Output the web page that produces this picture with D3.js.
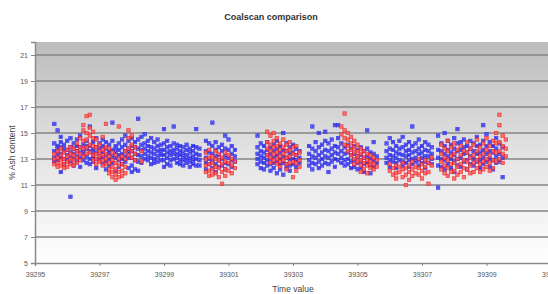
<!DOCTYPE html>
<html>
<head>
<meta charset="utf-8">
<script src="https://cdn.jsdelivr.net/npm/d3@7"></script>
<style>
    body { margin: 0; background: #fff; }
    svg { display: block; font-family: "Liberation Sans", Arial, sans-serif; }
</style>
</head>
<body>
<div id="chart"></div>
<script>
// each row: [time value, ash readings at that time...]
const seriesBlue = [
    [39295.6, 15.7, 14.2, 13.6, 13.1, 12.8],
    [39295.7, 15.2, 14.0, 13.5, 13.2, 13.8, 12.9],
    [39295.8, 14.7, 13.9, 13.4, 12.0, 13.1, 14.3],
    [39295.9, 14.1, 13.6, 13.0, 12.6, 13.8],
    [39296.0, 14.4, 13.7, 13.3, 12.9],
    [39296.1, 13.9, 13.5, 13.1, 12.7, 10.1, 14.6],
    [39296.2, 14.2, 13.8, 13.4, 13.0, 12.5],
    [39296.3, 14.5, 13.6, 13.2, 12.8, 14.0],
    [39296.4, 13.9, 13.5, 13.1, 12.4, 14.8],
    [39296.5, 14.1, 13.7, 13.3, 12.9, 13.5],
    [39296.6, 14.4, 13.8, 13.2, 12.7, 14.0],
    [39296.7, 15.5, 14.0, 13.6, 13.0, 12.6],
    [39296.8, 14.3, 13.7, 13.4, 12.8, 13.1],
    [39296.9, 14.6, 13.9, 13.5, 13.0, 12.3],
    [39297.0, 14.2, 13.6, 13.2, 12.9, 13.8],
    [39297.1, 14.0, 13.5, 13.1, 12.6, 14.5],
    [39297.2, 14.3, 13.8, 13.3, 12.8, 12.2],
    [39297.3, 14.1, 13.6, 13.0, 12.5, 13.4],
    [39297.4, 15.8, 14.4, 13.7, 13.2, 12.7],
    [39297.5, 14.0, 13.5, 13.1, 12.1, 13.8],
    [39297.6, 14.2, 13.7, 13.3, 12.9, 12.4],
    [39297.7, 14.5, 13.9, 13.4, 13.0, 12.6],
    [39297.8, 14.8, 14.1, 13.6, 13.2, 12.8],
    [39297.9, 14.4, 13.8, 13.5, 13.1, 12.3],
    [39298.0, 14.6, 14.0, 13.6, 13.1, 12.5, 12.0],
    [39298.1, 14.3, 13.9, 13.4, 12.9, 12.2],
    [39298.2, 16.1, 14.5, 13.8, 13.3, 12.8, 12.1],
    [39298.3, 14.7, 14.1, 13.7, 13.2, 12.7],
    [39298.4, 14.9, 14.2, 13.8, 13.4, 13.0],
    [39298.5, 14.4, 14.0, 13.6, 13.2, 12.9],
    [39298.6, 14.6, 13.9, 13.5, 13.1, 12.6],
    [39298.7, 14.3, 13.8, 13.4, 13.0, 12.7],
    [39298.8, 14.5, 14.0, 13.6, 13.2, 12.8],
    [39298.9, 14.1, 13.7, 13.3, 12.9, 13.5],
    [39299.0, 15.3, 14.2, 13.7, 13.3, 12.9, 12.4],
    [39299.1, 14.4, 13.9, 13.5, 13.1, 12.6],
    [39299.2, 14.0, 13.6, 13.3, 12.9, 12.5],
    [39299.3, 15.5, 14.2, 13.7, 13.4, 13.0],
    [39299.4, 14.1, 13.8, 13.4, 13.1, 12.7],
    [39299.5, 14.0, 13.6, 13.3, 12.9, 12.6],
    [39299.6, 13.9, 13.5, 13.2, 12.9, 12.5],
    [39299.7, 14.1, 13.7, 13.3, 13.0, 12.7],
    [39299.8, 13.8, 13.5, 13.1, 12.8, 12.4],
    [39299.9, 14.0, 13.6, 13.2, 12.9, 12.6],
    [39300.0, 15.3, 13.9, 13.4, 13.0, 12.5],
    [39300.1, 13.8, 13.3, 12.9, 12.5],
    [39300.3, 14.4, 13.6, 13.1, 12.7, 12.2],
    [39300.4, 14.2, 13.5, 13.0, 12.6],
    [39300.5, 15.8, 14.0, 13.4, 12.8, 12.3],
    [39300.6, 14.3, 13.7, 13.2, 12.6, 12.0],
    [39300.7, 13.9, 13.3, 12.9, 12.4],
    [39300.8, 14.1, 13.6, 13.0, 12.5],
    [39300.9, 14.8, 13.8, 13.2, 12.7, 12.2],
    [39301.0, 14.5, 13.7, 13.1, 12.6],
    [39301.1, 14.0, 13.4, 12.9, 12.4],
    [39301.2, 13.7, 13.2, 12.8],
    [39301.9, 14.8, 13.9, 13.4, 13.0, 12.6],
    [39302.0, 14.2, 13.6, 13.2, 12.8, 12.3],
    [39302.1, 14.0, 13.5, 13.1, 12.7, 12.2],
    [39302.2, 14.3, 13.7, 13.3, 12.9, 12.5],
    [39302.3, 13.9, 13.4, 13.0, 12.6, 12.1],
    [39302.4, 14.1, 13.6, 13.1, 12.7, 12.3],
    [39302.5, 14.4, 13.8, 13.3, 12.8, 11.9],
    [39302.6, 14.0, 13.5, 13.0, 12.6, 12.2],
    [39302.7, 15.0, 13.7, 13.2, 12.7, 11.8],
    [39302.8, 14.2, 13.6, 13.1, 12.6, 12.3],
    [39302.9, 13.9, 13.4, 13.0, 12.5, 12.1],
    [39303.0, 14.1, 13.5, 13.0, 12.6],
    [39303.1, 13.8, 13.3, 12.9, 12.4],
    [39303.2, 13.6, 13.1, 12.7],
    [39303.5, 14.0, 13.4, 12.9, 12.5],
    [39303.6, 15.5, 13.8, 13.2, 12.7, 12.2],
    [39303.7, 14.3, 13.6, 13.1, 12.6],
    [39303.8, 15.0, 13.9, 13.3, 12.8, 12.3],
    [39303.9, 14.1, 13.5, 13.0, 12.5],
    [39304.0, 15.1, 14.4, 13.7, 13.2, 12.7],
    [39304.1, 14.2, 13.6, 13.1, 12.6, 12.0],
    [39304.2, 14.5, 13.8, 13.3, 12.8],
    [39304.3, 15.6, 14.0, 13.5, 13.0, 12.4],
    [39304.4, 15.6, 14.6, 13.9, 13.4, 12.9],
    [39304.5, 14.2, 13.6, 13.1, 12.7],
    [39304.6, 13.9, 13.4, 12.9, 12.5],
    [39304.7, 14.1, 13.5, 13.0, 12.6],
    [39304.8, 13.8, 13.3, 12.8, 12.3],
    [39304.9, 14.0, 13.4, 12.9, 12.4],
    [39305.0, 13.7, 13.2, 12.7, 12.2],
    [39305.1, 13.9, 13.3, 12.8, 12.3],
    [39305.2, 13.6, 13.1, 12.6, 12.0],
    [39305.3, 15.2, 13.8, 13.2, 12.7],
    [39305.4, 13.5, 13.0, 12.5, 11.9],
    [39305.5, 14.3, 13.4, 12.9, 12.4],
    [39305.6, 13.2, 12.7],
    [39305.9, 14.2, 13.6, 13.1, 12.7],
    [39306.0, 14.6, 13.8, 13.3, 12.9, 12.4],
    [39306.1, 14.3, 13.7, 13.2, 12.8],
    [39306.2, 14.0, 13.5, 13.1, 12.7, 12.3],
    [39306.3, 14.4, 13.8, 13.4, 12.9],
    [39306.4, 14.7, 13.9, 13.3, 12.8, 12.5],
    [39306.5, 14.1, 13.6, 13.2, 12.7],
    [39306.6, 14.3, 13.7, 13.3, 12.9, 12.4],
    [39306.7, 15.5, 14.0, 13.5, 13.0, 12.6],
    [39306.8, 14.2, 13.6, 13.1, 12.8],
    [39306.9, 14.5, 13.8, 13.4, 12.9, 12.5],
    [39307.0, 14.0, 13.5, 13.1, 12.7],
    [39307.1, 14.3, 13.7, 13.2, 12.8, 12.3],
    [39307.2, 14.1, 13.6, 13.2, 12.7],
    [39307.3, 13.9, 13.4, 13.0, 12.6],
    [39307.5, 14.8, 13.7, 13.1, 12.5, 10.8],
    [39307.6, 14.2, 13.6, 13.0, 12.4],
    [39307.7, 15.0, 14.0, 13.4, 12.9, 12.2],
    [39307.8, 14.4, 13.7, 13.2, 12.6],
    [39307.9, 14.1, 13.5, 13.0, 12.3],
    [39308.0, 14.6, 13.8, 13.3, 12.8, 12.0],
    [39308.1, 15.3, 14.2, 13.6, 13.0, 12.5],
    [39308.2, 14.3, 13.7, 13.1, 12.4],
    [39308.3, 14.5, 13.9, 13.4, 12.8],
    [39308.4, 14.0, 13.5, 12.9, 12.2],
    [39308.5, 14.4, 13.8, 13.2, 12.6],
    [39308.6, 14.2, 13.6, 13.0, 12.5],
    [39308.7, 14.7, 14.0, 13.4, 12.8],
    [39308.8, 14.1, 13.5, 12.9, 12.3],
    [39308.9, 15.6, 14.4, 13.7, 13.1, 12.6],
    [39309.0, 14.9, 14.0, 13.4, 12.8],
    [39309.1, 14.3, 13.6, 13.0, 12.4],
    [39309.2, 14.0, 13.5, 12.9, 12.2],
    [39309.3, 14.6, 13.8, 13.2, 12.7],
    [39309.4, 14.2, 13.4, 12.8],
    [39309.5, 13.9, 13.1, 11.6]
];

const seriesRed = [
    [39295.6, 13.4, 13.0, 12.6],
    [39295.7, 13.6, 13.1, 12.7, 12.4],
    [39295.8, 13.3, 12.9, 12.5, 13.8],
    [39295.9, 13.5, 13.0, 12.6, 12.3],
    [39296.0, 13.7, 13.2, 12.8, 12.4],
    [39296.1, 13.4, 13.0, 12.6, 13.9],
    [39296.2, 13.8, 13.3, 12.9, 12.5],
    [39296.3, 14.2, 13.6, 13.1, 12.7],
    [39296.4, 14.6, 13.9, 13.4, 12.9],
    [39296.5, 15.6, 15.2, 14.4, 13.8, 13.2],
    [39296.6, 16.3, 15.0, 14.5, 13.9, 13.4],
    [39296.7, 16.4, 15.4, 14.8, 14.1, 13.5],
    [39296.8, 15.1, 14.6, 14.0, 13.3, 12.9],
    [39296.9, 14.5, 13.9, 13.4, 13.0, 12.6],
    [39297.0, 14.1, 13.6, 13.2, 12.8],
    [39297.1, 14.7, 13.7, 13.3, 12.9, 12.5],
    [39297.2, 15.7, 13.9, 13.4, 13.0, 12.6],
    [39297.3, 13.8, 13.2, 12.7, 12.2, 11.9],
    [39297.4, 13.5, 12.9, 12.4, 12.0, 11.6],
    [39297.5, 13.3, 12.7, 12.2, 11.8, 11.4],
    [39297.6, 15.5, 13.0, 12.5, 12.0, 11.6],
    [39297.7, 13.2, 12.6, 12.1, 11.7],
    [39297.8, 13.6, 13.0, 12.4, 11.9],
    [39297.9, 15.2, 14.6, 13.8, 13.3],
    [39298.0, 14.8, 14.1, 13.6, 13.1],
    [39298.1, 13.9, 13.4, 12.9],
    [39298.3, 13.6, 12.8],
    [39300.3, 13.5, 13.0, 12.5, 12.0],
    [39300.4, 13.7, 13.1, 12.6, 12.1, 11.7],
    [39300.5, 13.2, 12.7, 12.2, 11.8],
    [39300.6, 13.6, 13.0, 12.4, 11.9],
    [39300.7, 13.4, 12.9, 12.3, 11.6],
    [39300.8, 13.1, 12.6, 12.0, 11.1],
    [39300.9, 13.5, 12.8, 12.2, 11.7],
    [39301.0, 13.3, 12.7, 12.1],
    [39301.1, 13.0, 12.5, 11.9],
    [39301.2, 12.8, 12.3],
    [39302.2, 15.1, 14.3, 13.8, 13.3],
    [39302.3, 14.8, 14.1, 13.6, 13.1, 12.7],
    [39302.4, 15.0, 14.4, 13.9, 13.4, 12.9],
    [39302.5, 14.6, 14.0, 13.5, 13.0, 12.6],
    [39302.6, 14.2, 13.7, 13.2, 12.8, 12.4],
    [39302.7, 14.5, 13.9, 13.4, 12.9],
    [39302.8, 14.1, 13.6, 13.1, 12.6, 12.2],
    [39302.9, 14.3, 13.7, 13.2, 12.7],
    [39303.0, 13.9, 13.4, 12.8, 11.6],
    [39303.1, 14.0, 13.3, 12.7, 12.1],
    [39303.2, 13.5, 12.9, 12.4],
    [39304.5, 15.5, 14.9],
    [39304.6, 16.5, 15.2, 14.6, 14.1],
    [39304.7, 15.0, 14.5, 14.0, 13.6],
    [39304.8, 14.7, 14.2, 13.7, 13.3],
    [39304.9, 14.4, 13.9, 13.5, 13.0, 12.6],
    [39305.0, 14.1, 13.6, 13.2, 12.8],
    [39305.1, 13.8, 13.4, 12.9, 12.5, 12.0],
    [39305.2, 13.6, 13.1, 12.7, 12.2],
    [39305.3, 13.4, 12.9, 12.5, 11.9],
    [39305.4, 13.3, 12.8, 12.3, 12.6],
    [39305.5, 13.1, 12.6, 12.2],
    [39305.6, 12.9, 12.4],
    [39306.0, 12.6, 12.1],
    [39306.1, 12.3, 11.8],
    [39306.2, 12.5, 11.9, 11.5],
    [39306.3, 12.4, 12.0],
    [39306.4, 12.7, 12.2, 11.6],
    [39306.5, 12.3, 11.8, 11.0],
    [39306.6, 12.5, 12.0, 11.4],
    [39306.7, 12.8, 12.2, 11.7],
    [39306.8, 12.4, 11.9],
    [39306.9, 13.0, 12.3, 11.8],
    [39307.0, 12.6, 12.1, 11.5],
    [39307.1, 12.9, 12.4, 11.9],
    [39307.2, 12.7, 12.0, 11.1],
    [39307.3, 13.1, 12.5],
    [39307.6, 14.1, 13.4, 12.8, 12.2],
    [39307.7, 13.8, 13.1, 12.5, 11.9],
    [39307.8, 14.4, 13.6, 12.9, 12.3, 11.7],
    [39307.9, 13.9, 13.2, 12.6, 12.0],
    [39308.0, 14.2, 13.4, 12.7, 12.1, 11.5],
    [39308.1, 13.7, 13.0, 12.4, 11.8],
    [39308.2, 14.0, 13.3, 12.6, 12.0],
    [39308.3, 13.6, 12.9, 12.3, 11.6],
    [39308.4, 14.3, 13.5, 12.8, 12.2],
    [39308.5, 13.8, 13.1, 12.5, 11.9],
    [39308.6, 14.1, 13.3, 12.7, 12.0],
    [39308.7, 14.5, 13.6, 12.9, 12.3],
    [39308.8, 13.9, 13.2, 12.6, 12.0],
    [39308.9, 14.2, 13.4, 12.8, 12.2],
    [39309.0, 14.6, 13.7, 13.0, 12.4],
    [39309.1, 14.0, 13.3, 12.7, 12.1],
    [39309.2, 14.4, 13.6, 12.9, 12.3],
    [39309.3, 15.0, 14.2, 13.5, 12.8],
    [39309.4, 16.4, 15.6, 14.3, 13.6, 13.0],
    [39309.5, 14.8, 14.0, 13.4, 12.7],
    [39309.6, 14.5, 13.8, 13.2]
];

const xTicks = [39295, 39297, 39299, 39301, 39303, 39305, 39307, 39309, 39311];
const yTicks = [5, 7, 9, 11, 13, 15, 17, 19, 21];

const width = 548, height = 294;
const margin = { top: 42, right: -3, bottom: 31, left: 35 };
const m = 3.4; // marker size

const svg = d3.select('#chart')
    .append('svg')
    .attr('width', width)
    .attr('height', height);

const x = d3.scaleLinear()
    .domain([39295, 39311])
    .range([margin.left, width - margin.right]);

const y = d3.scaleLinear()
    .domain([5, 22])
    .range([height - margin.bottom, margin.top]);

// flatten rows into points
function toPoints(rows) {
    const pts = [];
    rows.forEach(r => r.slice(1).forEach(v => pts.push({ t: r[0], v: v })));
    return pts;
}

// plot background gradient
const grad = svg.append('defs').append('linearGradient')
    .attr('id', 'bg')
    .attr('x1', 0).attr('y1', 0).attr('x2', 0).attr('y2', 1);
grad.append('stop').attr('offset', '0%').attr('stop-color', '#bcbcbc');
grad.append('stop').attr('offset', '55%').attr('stop-color', '#e6e6e6');
grad.append('stop').attr('offset', '100%').attr('stop-color', '#ffffff');

svg.append('rect')
    .attr('x', x(39295))
    .attr('y', y(22))
    .attr('width', x(39311) - x(39295))
    .attr('height', y(5) - y(22))
    .attr('fill', 'url(#bg)');

// horizontal gridlines
svg.append('g')
    .selectAll('line')
    .data(yTicks.filter(d => d > 5))
    .join('line')
    .attr('x1', x(39295))
    .attr('x2', x(39311))
    .attr('y1', d => y(d))
    .attr('y2', d => y(d))
    .attr('stroke', '#858585')
    .attr('stroke-width', 1.5);

// axes
const yAxis = svg.append('g')
    .attr('transform', `translate(${x(39295)},0)`)
    .call(d3.axisLeft(y).tickValues(yTicks).tickSize(4).tickPadding(3));

const xAxis = svg.append('g')
    .attr('transform', `translate(0,${y(5)})`)
    .call(d3.axisBottom(x).tickValues(xTicks).tickSize(3).tickPadding(6).tickFormat(d3.format('d')));

[yAxis, xAxis].forEach(a => {
    a.select('.domain').attr('stroke', '#8a8a8a').attr('stroke-width', 1.5);
    a.selectAll('.tick line').attr('stroke', '#8a8a8a');
    a.selectAll('.tick text')
        .attr('fill', '#555')
        .style('font-size', '7px')
        .style('font-family', '"Liberation Sans", Arial, sans-serif');
});

// blue series (x markers in boxes)
const blue = svg.append('g')
    .selectAll('g')
    .data(toPoints(seriesBlue))
    .join('g')
    .attr('transform', d => `translate(${x(d.t)},${y(d.v)})`);

blue.append('rect')
    .attr('x', -m / 2).attr('y', -m / 2)
    .attr('width', m).attr('height', m)
    .attr('fill', '#7a7aff')
    .attr('stroke', '#2424f0')
    .attr('stroke-width', 0.7)
    .attr('opacity', 0.9);

blue.append('path')
    .attr('d', 'M-1,-1L1,1M-1,1L1,-1')
    .attr('stroke', '#1010c8')
    .attr('stroke-width', 0.7);

// red series (squares)
svg.append('g')
    .selectAll('rect')
    .data(toPoints(seriesRed))
    .join('rect')
    .attr('x', d => x(d.t) - m / 2)
    .attr('y', d => y(d.v) - m / 2)
    .attr('width', m)
    .attr('height', m)
    .attr('fill', '#ff6060')
    .attr('stroke', '#f01c1c')
    .attr('stroke-width', 0.7)
    .attr('opacity', 0.85);

// titles
svg.append('text')
    .attr('x', 271)
    .attr('y', 20)
    .attr('text-anchor', 'middle')
    .style('font-size', '9px')
    .style('font-weight', 'bold')
    .attr('fill', '#333')
    .text('Coalscan comparison');

svg.append('text')
    .attr('x', 293)
    .attr('y', 292)
    .attr('text-anchor', 'middle')
    .style('font-size', '8.5px')
    .attr('fill', '#444')
    .text('Time value');

svg.append('text')
    .attr('transform', `translate(15,${(y(5) + y(22)) / 2}) rotate(-90)`)
    .attr('text-anchor', 'middle')
    .style('font-size', '8.5px')
    .attr('fill', '#444')
    .text('% Ash content');
</script>
</body>
</html>
